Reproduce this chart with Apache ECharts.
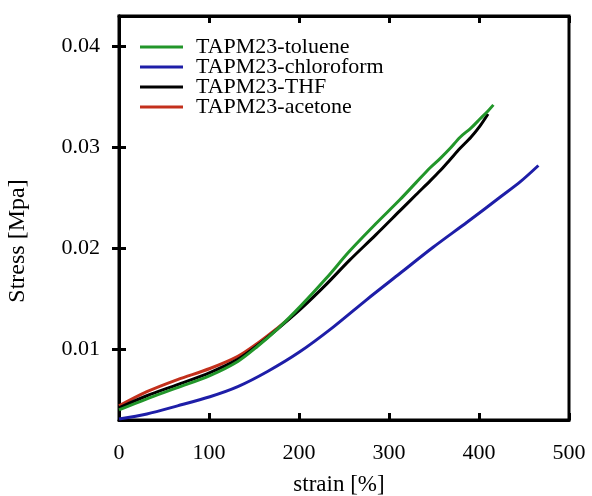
<!DOCTYPE html>
<html><head><meta charset="utf-8">
<script src="https://cdn.jsdelivr.net/npm/echarts@6/dist/echarts.min.js"></script>
<style>html,body{margin:0;padding:0;background:#fff}#c{width:592px;height:496px}</style>
</head><body><div id="c"></div>
<script>
const xTicks = [0, 100, 200, 300, 400, 500];
const yTicks = [0.01, 0.02, 0.03, 0.04];
const seriesNames = ['TAPM23-toluene', 'TAPM23-chloroform', 'TAPM23-THF', 'TAPM23-acetone'];
const xTitle = 'strain [%]';
const yTitle = 'Stress [Mpa]';
const toluene = [[0,0.0040],[31,0.0051],[65,0.0062],[101,0.0074],[132,0.0088],[154,0.0103],[176,0.0120],[202,0.0143],[230,0.0170],[256,0.0197],[285,0.0224],[312,0.0248],[330,0.0265],[346,0.0280],[357,0.0289],[368,0.0299],[379,0.0310],[391,0.0319],[401,0.0328],[410,0.0336],[416,0.0342]];
const chloroform = [[0,0.0031],[31,0.0036],[65,0.0044],[101,0.0053],[132,0.0063],[165,0.0078],[200,0.0097],[238,0.0122],[275,0.0149],[312,0.0175],[349,0.0201],[387,0.0226],[424,0.0251],[446,0.0266],[466,0.0282]];
const thf = [[0,0.0042],[31,0.0054],[65,0.0065],[101,0.0077],[132,0.0090],[154,0.0104],[176,0.0120],[202,0.0140],[230,0.0164],[256,0.0188],[285,0.0213],[312,0.0237],[330,0.0253],[346,0.0267],[357,0.0277],[368,0.0288],[379,0.0299],[391,0.0310],[401,0.0321],[410,0.0333]];
const acetone = [[0,0.0044],[31,0.0058],[65,0.0070],[101,0.0081],[132,0.0093],[154,0.0106],[176,0.0121],[190,0.0131]];

const F = '"Liberation Serif","Times New Roman",serif';
const chart = echarts.init(document.getElementById('c'));
const lw = 3;
function ser(name, data, color, z) {
  return {name, type:'line', data, smooth:0.3, symbol:'none', z,
    lineStyle:{color, width:lw}, itemStyle:{color}};
}
chart.setOption({
  animation:false,
  textStyle:{fontFamily:F},
  grid:{left:119, right:23, top:16, bottom:76, outerBoundsMode:'none', containLabel:false,
    show:true, borderColor:'#000', borderWidth:3, backgroundColor:'transparent'},
  legend:{
    data:seriesNames, orient:'vertical', left:135, top:31,
    itemWidth:43, itemHeight:20, itemGap:-2,
    icon:'path://M0,0 L43,0 L43,3 L0,3 Z',
    textStyle:{fontFamily:F, fontSize:22, color:'#000', lineHeight:20, padding:[0,0,0,8]}
  },
  graphic:[
    {type:'text', x:339, y:485, style:{text:xTitle, font:'23px '+F, fill:'#000', align:'center', verticalAlign:'middle'}},
    {type:'text', x:18, y:241, rotation:Math.PI/2, style:{text:yTitle, font:'24px '+F, fill:'#000', align:'center', verticalAlign:'middle'}}
  ],
  xAxis:[{
    type:'value', min:xTicks[0], max:xTicks[xTicks.length-1], interval:100,
    axisLine:{show:true, lineStyle:{color:'#000', width:3}},
    axisTick:{show:true, inside:true, length:7, lineStyle:{color:'#000', width:3}},
    axisLabel:{fontFamily:F, fontSize:22, color:'#000', margin:22},
    splitLine:{show:false}
  },{
    type:'value', position:'top', min:xTicks[0], max:xTicks[xTicks.length-1], interval:100,
    axisLine:{show:true, lineStyle:{color:'#000', width:3}},
    axisTick:{show:true, inside:true, length:7, lineStyle:{color:'#000', width:3}},
    axisLabel:{show:false}, splitLine:{show:false}
  }],
  yAxis:[{
    type:'value', min:0.003, max:0.043,
    axisLine:{show:true, lineStyle:{color:'#000', width:3}},
    axisTick:{show:true, inside:true, length:7, customValues:yTicks, lineStyle:{color:'#000', width:3}},
    axisLabel:{fontFamily:F, fontSize:22, color:'#000', margin:19, customValues:yTicks, formatter:v=>v.toFixed(2)},
    splitLine:{show:false}
  },{
    type:'value', position:'right', min:0.003, max:0.043,
    axisLine:{show:true, lineStyle:{color:'#000', width:3}},
    axisTick:{show:true, inside:true, length:7, customValues:yTicks, lineStyle:{color:'#000', width:3}},
    axisLabel:{show:false, customValues:yTicks}, splitLine:{show:false}
  }],
  series:[
    ser(seriesNames[3], acetone, '#c3301c', 3),
    ser(seriesNames[1], chloroform, '#1e1ea8', 4),
    ser(seriesNames[2], thf, '#000000', 5),
    ser(seriesNames[0], toluene, '#22962a', 6)
  ]
});
</script></body></html>
